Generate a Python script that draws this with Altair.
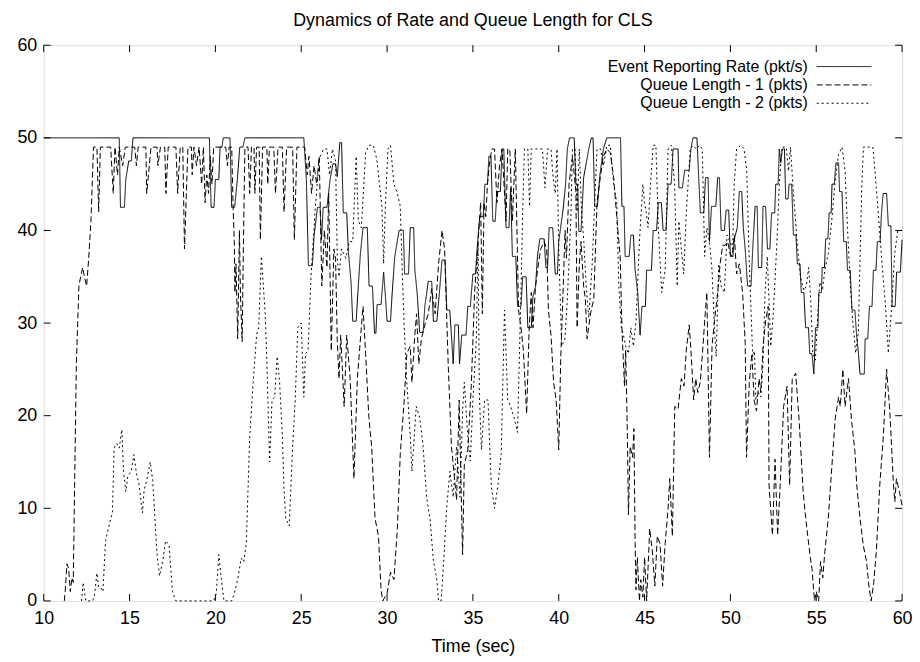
import altair as alt
import pandas as pd

TITLE = "Dynamics of Rate and Queue Length for CLS"
X_TITLE = "Time (sec)"
SERIES = ["Event Reporting Rate (pkt/s)", "Queue Length - 1 (pkts)", "Queue Length - 2 (pkts)"]
X_TICKS = [10, 15, 20, 25, 30, 35, 40, 45, 50, 55, 60]
Y_TICKS = [0, 10, 20, 30, 40, 50, 60]

rate_t = [10.0, 14.4, 14.47, 14.7, 14.78, 14.95, 15.1, 15.2,
          19.65, 19.75, 19.92, 20.0, 20.2, 20.27, 20.38, 20.46,
          20.85, 20.95, 21.12, 21.28, 21.42, 21.6, 21.72,
          25.15, 25.3, 25.42, 25.65, 25.75, 25.95, 26.1, 26.18, 26.28, 26.5, 26.68, 26.85, 27.0, 27.1, 27.25,
          27.35, 27.45, 27.65, 27.75, 27.9, 28.0, 28.2, 28.3, 28.45, 28.6, 28.85, 28.95, 29.15, 29.27, 29.35,
          29.42, 29.65, 29.8, 29.9, 30.0, 30.2, 30.3, 30.45, 30.7, 30.95, 31.02, 31.25, 31.35, 31.55, 31.62,
          31.75, 31.9, 32.1, 32.2, 32.4, 32.6, 32.7, 32.9, 33.05, 33.2, 33.38, 33.48, 33.65, 33.75, 33.85,
          33.95, 34.15, 34.22, 34.35, 34.6, 34.7, 34.85, 35.0, 35.15, 35.26, 35.4, 35.6, 35.7, 35.85, 35.93,
          36.05, 36.16, 36.3, 36.4, 36.6, 36.7, 36.8, 36.93, 37.1, 37.2, 37.3, 37.5, 37.6, 37.8, 37.9, 38.1,
          38.2, 38.4, 38.5, 38.65, 38.76, 38.9, 39.15, 39.25, 39.35, 39.44, 39.65, 39.8, 39.92, 40.0, 40.25,
          40.4, 40.5, 40.63, 40.9, 41.0, 41.1, 41.17, 41.3, 41.45, 41.75, 41.9, 42.0, 42.1, 42.25, 42.4, 42.6,
          42.8, 43.6, 43.68, 43.8, 43.87, 44.1, 44.2, 44.35, 44.45, 44.6, 44.74, 44.85, 45.05, 45.12, 45.4,
          45.5, 45.7, 45.8, 45.98, 46.08, 46.25, 46.37, 46.55, 46.66, 46.95, 47.0, 47.2, 47.34, 47.6, 47.7,
          47.82, 48.05, 48.17, 48.25, 48.45, 48.55, 48.7, 48.78, 48.9, 49.15, 49.26, 49.36, 49.46, 49.65,
          49.75, 49.9, 50.0, 50.15, 50.23, 50.4, 50.52, 50.66, 50.75, 50.86, 51.0, 51.2, 51.3, 51.44, 51.56,
          51.63, 51.82, 51.9, 52.05, 52.16, 52.3, 52.4, 52.58, 52.64, 52.78, 52.85, 52.93, 53.03, 53.15,
          53.22, 53.36, 53.42, 53.57, 53.67, 53.82, 53.9, 54.05, 54.13, 54.28, 54.38, 54.55, 54.62, 54.75,
          54.86, 54.96, 55.1, 55.15, 55.3, 55.35, 55.48, 55.55, 55.68, 55.75, 55.87, 55.92, 56.05, 56.15,
          56.3, 56.36, 56.5, 56.6, 56.75, 56.82, 56.98, 57.08, 57.25, 57.35, 57.46, 57.55, 57.8, 57.85, 58.0,
          58.1, 58.25, 58.33, 58.48, 58.56, 58.72, 58.8, 58.9, 59.1, 59.2, 59.35, 59.42, 59.6, 59.68, 59.9, 60.0]
rate_v = [50, 50, 42.5, 42.5, 45.5, 47.5, 47.5, 50,
          50, 42.5, 42.5, 45.5, 45.5, 49, 49, 50,
          50, 42.5, 42.5, 45.5, 49, 49, 50,
          50, 45.5, 36.2, 36.2, 39.5, 42.5, 42.5, 39, 42.5, 42.5, 45.5, 47.2, 47.2, 45.8, 49.5,
          49.5, 41.9, 41.9, 37.6, 34.5, 30.2, 30.2, 33.3, 37.6, 40.3, 40.3, 34, 34, 28.9, 28.9,
          32, 32, 35.5, 33, 30.2, 30.2, 33.3, 37.2, 40, 40, 35.3, 35.3, 40.3, 40.3, 35.7,
          33.3, 29, 29, 31.8, 34.5, 34.5, 30.2, 30.2, 33.3, 36.8, 36.8, 31.4, 31.4, 28.7, 25.6,
          29.8, 29.8, 25.6, 28.7, 28.7, 31.8, 31.8, 35.3, 35.3, 38.4, 41.5, 41.5, 45, 45, 48,
          48, 41, 41, 44.2, 44.2, 48.8, 48.8, 40.3, 40.3, 44.6, 37.2, 37.2, 31.8, 31.8, 35, 35,
          29.5, 29.5, 32.9, 34, 37.2, 39.1, 39.1, 36, 36, 40.3, 40.3, 35.3, 35.3, 38.8, 42.2,
          45, 48.8, 50, 50, 45, 45, 39.9, 39.9, 45.7, 48.8, 50, 50, 42.6, 42.6, 46, 48.8,
          50, 50, 42.6, 42.6, 37.2, 37.2, 39.5, 39.5, 35.7, 33.3, 28.7, 31.8, 31.8, 35.7, 35.7,
          40, 40, 43, 43, 40, 40, 45, 45, 48.8, 48.8, 44.6, 44.6, 46.5, 46.5, 48.8,
          50, 50, 45, 41.9, 41.9, 45.7, 45.7, 38.8, 42.6, 42.6, 45.7, 45.7, 40, 40,
          42.2, 42.2, 37.2, 37.2, 39.1, 40.3, 44.2, 44.2, 40.3, 38, 34, 34, 38, 42.6, 42.6,
          36, 36, 42.6, 42.6, 38, 38, 41.9, 41.9, 45, 45, 48.8, 47.3, 48.8, 48.8,
          43.4, 43.4, 45, 45, 39.5, 39.5, 36.4, 36.4, 33.3, 33.3, 29.5, 29.5, 26.7, 26.7,
          24.5, 29.5, 29.5, 33.3, 33.3, 36, 36, 39.1, 39.1, 41.9, 41.9, 45, 45, 47.3,
          47.3, 44.2, 44.2, 38.8, 38.8, 35.7, 35.7, 31.4, 31.4, 28.7, 26.7, 24.5, 24.5, 28.3, 28.3,
          31.8, 31.8, 35.7, 35.7, 38.8, 38.8, 41.9, 44, 44, 40.5, 40.5, 31.8, 31.8, 35.5, 35.5, 39]

q1_t = [11.2, 11.25, 11.35, 11.45, 11.55, 11.65, 11.72, 11.9, 12.05, 12.15, 12.27, 12.37, 12.5, 12.62, 12.75,
        12.9, 13.1, 13.2, 13.3, 13.9, 14.05, 14.15, 14.3, 14.4, 14.6, 14.75, 15.3, 15.4, 15.5, 15.95, 16.0,
        16.15, 16.25, 16.6, 16.65, 16.8, 17.05, 17.12, 17.25, 17.7, 17.8, 17.95, 18.1, 18.2, 18.4, 18.6,
        18.65, 18.75, 18.9, 19.05, 19.2, 19.3, 19.4, 19.5, 19.6, 19.7, 19.8, 19.9, 20.6, 20.7, 20.8, 20.95,
        21.04, 21.1, 21.14, 21.2, 21.3, 21.4, 21.46, 21.56, 21.62, 21.72, 21.9, 22.0, 22.1, 22.25, 22.3,
        22.4, 22.55, 22.62, 22.75, 23.0, 23.05, 23.15, 23.4, 23.5, 23.65, 23.9, 24.0, 24.15, 24.5, 24.6,
        24.75, 25.0, 25.2, 25.35, 25.45, 25.6, 25.75, 25.9, 26.05, 26.2, 26.35, 26.5, 26.6, 26.75, 26.9,
        27.0, 27.1, 27.2, 27.3, 27.5, 27.65, 27.85, 28.07, 28.27, 28.5, 28.6, 28.75, 28.94, 29.1, 29.3,
        29.5, 29.65, 29.75, 29.9, 30.0, 30.2, 30.4, 30.6, 30.77, 31.0, 31.15, 31.35, 31.45, 31.6, 31.72,
        31.85, 32.0, 32.2, 32.4, 32.6, 32.8, 33.0, 33.2, 33.35, 33.56, 33.75, 34.05, 34.2, 34.4, 34.5,
        34.7, 34.9, 35.1, 35.3, 35.45, 35.55, 35.65, 35.75, 35.85, 35.95, 36.1, 36.26, 36.4, 36.55, 36.7,
        36.93, 37.03, 37.15, 37.3, 37.47, 37.66, 37.8, 37.94, 38.13, 38.28, 38.4, 38.5, 38.65, 38.82,
        38.95, 39.15, 39.3, 39.4, 39.55, 39.7, 39.85, 40.0, 40.12, 40.25, 40.37, 40.45, 40.6, 40.8, 41.0,
        41.07, 41.2, 41.3, 41.45, 41.55, 41.65, 41.85, 42.04, 42.23, 42.42, 42.6, 42.8, 43.0, 43.2, 43.4,
        43.58, 43.68, 43.83, 43.9, 44.0, 44.06, 44.16, 44.3, 44.38, 44.45, 44.5, 44.58, 44.7, 44.78, 44.9,
        45.0, 45.12, 45.3, 45.45, 45.6, 45.74, 45.9, 46.05, 46.2, 46.37, 46.47, 46.62, 46.76, 46.95, 47.14,
        47.3, 47.43, 47.6, 47.7, 47.86, 47.98, 48.1, 48.24, 48.36, 48.5, 48.63, 48.78, 48.93, 49.07, 49.26,
        49.4, 49.55, 49.7, 49.84, 49.98, 50.1, 50.23, 50.36, 50.52, 50.71, 50.86, 50.94, 51.1, 51.25, 51.38,
        51.52, 51.67, 51.77, 51.9, 52.05, 52.2, 52.25, 52.45, 52.6, 52.75, 52.9, 53.1, 53.3, 53.45, 53.6,
        53.8, 54.0, 54.12, 54.24, 54.35, 54.5, 54.66, 54.75, 54.9, 55.0, 55.14, 55.25, 55.38, 55.5, 55.7,
        55.9, 56.1, 56.3, 56.4, 56.55, 56.68, 56.88, 57.05, 57.26, 57.36, 57.55, 57.74, 57.93, 58.08, 58.2,
        58.35, 58.5, 58.7, 58.9, 59.1, 59.28, 59.5, 59.58, 59.67, 59.85, 60.0]
q1_v = [0, 1, 4, 3.5, 1, 2.5, 2, 25.6, 34, 35, 36, 35, 34, 37, 41,
        49, 49, 42, 49, 49, 44, 49, 46, 49, 47, 49, 49, 47, 49, 49, 44,
        47, 49, 49, 47, 49, 49, 44, 49, 49, 44, 49, 49, 38, 49, 49,
        46, 49, 47, 49, 45, 49, 43, 46, 44, 48, 45, 49, 49, 47, 49, 49,
        42, 38.8, 33.3, 36.4, 28.3, 40, 33, 28, 37, 49, 49, 44, 49, 49, 44,
        49, 49, 39, 49, 49, 45, 49, 49, 44, 49, 49, 42, 49, 49, 39,
        49, 49, 49, 46, 48, 44, 47, 45, 48, 34, 40, 36, 44, 27, 38,
        37, 28, 24, 28.7, 21, 28.7, 24, 13.2, 24, 29.5, 31.8, 26.7, 19.8, 16.7, 8.9,
        7, 1.2, 0, 0.5, 0.8, 3.1, 2.3, 7.8, 15.9, 21.7, 26.7, 27.5, 23.6, 28.3, 31,
        25.6, 28.3, 29.8, 31, 33.7, 31, 36.4, 40, 38, 25.6, 16.7, 10.9, 21.7, 5, 14.7,
        16.3, 23, 33.3, 38.8, 43, 31, 43, 41.5, 45, 47, 48.8, 48.8, 43, 47, 48.8,
        41, 48.8, 48.8, 41, 48.8, 31.4, 29.5, 27.1, 20.2, 29.5, 33.3, 29.5, 34, 36.4,
        38, 38.8, 38, 31.4, 28.7, 23.6, 21.7, 16.3, 26.4, 33.3, 40, 37, 45, 48, 44.2,
        29.5, 36.4, 38.8, 34, 32.6, 28.3, 31, 32.6, 43, 45.7, 48, 48.8, 48.4, 45.7, 41,
        37.2, 29.5, 23.2, 27.1, 17.8, 9.3, 16.7, 15.5, 18.6, 6.2, 1.2, 4.7, 0, 2.3, 0.4,
        4.7, 0, 7.8, 5.4, 1.6, 7, 6.2, 1.6, 6.2, 10, 13.2, 7, 21, 20.7, 24,
        23.2, 27.1, 29.8, 27.1, 21.7, 24, 22.5, 23.6, 26.4, 30.2, 33.3, 15.5, 27.5, 30.2, 33.3,
        36.4, 38.4, 38.4, 38.8, 37.5, 37.2, 39.5, 35.3, 36.4, 33.3, 27.9, 15.5, 23.6, 26.7, 21.7,
        20.5, 24, 22.5, 27.5, 30.2, 31.8, 12.5, 7.1, 15.3, 7.1, 12.5, 21, 23.2, 12.5, 23.9,
        24.6, 19.6, 15.7, 11.75, 9.6, 7.1, 4.6, 3.5, 0, 1, 0, 4.25, 2.5, 5.3, 8.9,
        14.25, 19.6, 22, 21, 25, 21, 24, 19.6, 16, 12.5, 8.9, 6, 4.25, 1.4, 0,
        2, 5.3, 12.5, 17.5, 25, 20.7, 12.5, 10.7, 13.2, 11.75, 10.3]

q2_t = [12.2, 12.3, 12.45, 12.85, 12.95, 13.1, 13.2, 13.3, 13.45, 13.6, 13.85, 14.0, 14.1, 14.25, 14.4,
        14.55, 14.65, 14.78, 14.9, 15.1, 15.25, 15.4, 15.55, 15.75, 15.85, 16.0, 16.2, 16.35, 16.6, 16.75,
        16.95, 17.1, 17.3, 17.5, 17.7, 19.9, 20.05, 20.2, 20.35, 20.5, 20.95, 21.1, 21.3, 21.5, 21.65, 21.8,
        22.0, 22.2, 22.4, 22.52, 22.68, 22.9, 23.0, 23.16, 23.3, 23.45, 23.6, 23.74, 23.9, 24.0, 24.1, 24.3,
        24.5, 24.65, 24.8, 25.0, 25.15, 25.25, 25.4, 25.57, 25.8, 26.05, 26.3, 26.5, 26.65, 26.82, 27.0,
        27.1, 27.2, 27.35, 27.6, 27.8, 28.0, 28.2, 28.33, 28.5, 28.65, 28.75, 28.95, 29.2, 29.4, 29.7, 29.8,
        29.9, 30.05, 30.2, 30.4, 30.6, 30.77, 30.87, 31.0, 31.15, 31.35, 31.45, 31.7, 31.9, 32.1, 32.3,
        32.5, 32.7, 32.9, 33.0, 33.15, 33.3, 33.47, 33.66, 33.85, 34.05, 34.25, 34.4, 34.5, 34.7, 34.85,
        35.0, 35.2, 35.3, 35.38, 35.5, 35.68, 35.88, 36.07, 36.26, 36.45, 36.65, 36.84, 37.03, 37.2, 37.4,
        37.6, 37.8, 37.9, 38.0, 38.2, 38.3, 38.4, 38.76, 39.05, 39.2, 39.35, 39.55, 39.67, 39.8, 39.9, 40.0,
        40.17, 40.36, 40.5, 40.7, 40.8, 40.95, 41.07, 41.2, 41.33, 41.46, 41.6, 41.75, 41.95, 42.1, 42.23,
        42.43, 42.62, 42.8, 43.0, 43.2, 43.38, 43.5, 43.65, 43.77, 43.9, 44.06, 44.2, 44.35, 44.5, 44.7,
        44.9, 45.0, 45.1, 45.2, 45.35, 45.5, 45.66, 45.8, 46.0, 46.2, 46.37, 46.56, 46.75, 46.9, 47.0, 47.14,
        47.28, 47.43, 47.66, 47.82, 48.0, 48.2, 48.36, 48.5, 48.63, 48.78, 48.93, 49.07, 49.17, 49.32, 49.46,
        49.65, 49.8, 49.98, 50.13, 50.22, 50.36, 50.6, 50.8, 50.95, 51.1, 51.3, 51.4, 51.48, 51.63, 51.77,
        51.9, 52.02, 52.15, 52.35, 52.5, 52.7, 52.85, 53.0, 53.25, 53.38, 53.5, 53.65, 53.9, 54.08, 54.28,
        54.42, 54.56, 54.68, 54.8, 54.95, 55.08, 55.2, 55.36, 55.5, 55.7, 55.9, 56.1, 56.3, 56.5, 56.68,
        56.82, 56.97, 57.12, 57.3, 57.45, 57.55, 57.65, 57.75, 58.3, 58.5, 58.65, 58.85, 59.05, 59.2, 59.4,
        59.57, 59.75, 60.0]
q2_v = [0, 2, 0, 0, 0.5, 3, 1.5, 1.5, 1, 6.5, 8.5, 9.5, 16.5, 17, 16.5,
        18.5, 14, 11.8, 13.5, 14, 15.8, 13.8, 12.6, 9.5, 12, 13, 15, 13, 5, 2.7,
        4.5, 6.5, 6, 1, 0, 0, 0.8, 5, 2.3, 0, 0, 0.8, 2.3, 4.6, 4.2, 6.2,
        17.8, 23.6, 28.7, 29.5, 37.2, 31, 25.6, 15, 21.7, 22, 26.4, 23.6, 17.8, 12, 8.9, 8.1,
        16.7, 21.7, 29.5, 30, 22, 26.7, 27, 35, 42, 47.7, 48.8, 48.8, 46, 48.8, 47.5,
        37, 35, 38, 37, 38.8, 38.8, 48, 41, 40.3, 45, 48.4, 49.2, 49.2, 47.7, 42.6, 36.4,
        42.6, 48.8, 49.2, 45, 44, 42.6, 36.4, 29.5, 23.6, 17.8, 14, 21, 19.8, 16.7, 11.2,
        8.9, 4.3, 2.3, 0, 0, 4.3, 10, 14, 11.2, 16.7, 11.2, 20.5, 23.6, 17.8, 15.1,
        21.7, 28.3, 38.8, 22, 16.3, 21.7, 21.7, 12.4, 10, 12.4, 15.9, 31.4, 21.7, 21, 19.8,
        18.2, 33.3, 42, 48.8, 48.8, 42.6, 48.8, 48.8, 48.8, 44.6, 48.8, 48.8, 45.7, 44, 48.8, 38,
        27.5, 28.3, 32.6, 41, 48.8, 48.8, 42, 48.8, 42, 38.8, 34, 30.6, 36.4, 43.4, 48.8,
        48.8, 47, 49.2, 49.2, 45, 43, 34, 29.5, 28.7, 27.5, 26.7, 29.5, 27.5, 30.2, 38.8,
        45, 43, 41.9, 40.3, 45, 49.2, 49.2, 40.3, 33.3, 35.7, 48.8, 49.2, 45, 34, 41, 38,
        35.3, 41.9, 48.8, 49.2, 48.8, 49.2, 48.8, 37.2, 40.3, 38.8, 35.7, 29.5, 26.4, 36.4, 34,
        33.3, 39.5, 38.8, 38, 45, 48.8, 49.2, 48.8, 46.5, 36.4, 26.4, 27, 21.7, 22.5, 22,
        25.6, 33.3, 37.2, 27.5, 31, 38.4, 45, 49, 49, 46.4, 49, 44.6, 38.4, 35, 33.5,
        34, 36, 32.5, 26.75, 26, 30.5, 34.4, 33.5, 35.75, 37.5, 41, 45.3, 48.2, 49, 46.4,
        40.3, 34.6, 30.3, 26.75, 29, 36.75, 44.6, 49, 49, 44.6, 41, 36, 31.5, 26.75, 32,
        37.5, 40, 40]

FONT = "Liberation Sans"
FS = 18
KEY_FS = 16
W, H = 865, 560

x_scale = alt.Scale(domain=[10, 60], nice=False, zero=False)
y_scale = alt.Scale(domain=[0, 60], nice=False, zero=False)
x_axis = alt.Axis(values=X_TICKS, ticks=False, tickSize=0, domain=False, grid=False,
                  labelFont=FONT, labelFontSize=FS, labelColor="black", labelPadding=9,
                  labelFlush=False, title=X_TITLE, titleFont=FONT, titleFontSize=FS,
                  titleFontWeight="normal", titleColor="black", titlePadding=10)
y_axis = alt.Axis(values=Y_TICKS, ticks=False, tickSize=0, domain=False, grid=False,
                  labelFont=FONT, labelFontSize=FS, labelColor="black", labelPadding=7,
                  labelFlush=False, title=None)

def series_layer(ts, vs, dash):
    df = pd.DataFrame({"Time": ts, "Value": vs})
    return alt.Chart(df).mark_line(color="black", strokeWidth=1, strokeDash=dash).encode(
        x=alt.X("Time:Q", scale=x_scale, axis=x_axis),
        y=alt.Y("Value:Q", scale=y_scale, axis=y_axis),
    )

rate_layer = series_layer(rate_t, rate_v, [1, 0])
q1_layer = series_layer(q1_t, q1_v, [6, 3])
q2_layer = series_layer(q2_t, q2_v, [2, 3])

xt = pd.DataFrame({"Time": X_TICKS})
yt = pd.DataFrame({"Value": Y_TICKS})
tick_len = 7
xt_bottom = alt.Chart(xt).mark_rule(color="black", strokeWidth=1).encode(
    x=alt.X("Time:Q", scale=x_scale, axis=x_axis), y=alt.value(H), y2=alt.value(H - tick_len))
xt_top = alt.Chart(xt).mark_rule(color="black", strokeWidth=1).encode(
    x=alt.X("Time:Q", scale=x_scale, axis=x_axis), y=alt.value(0), y2=alt.value(tick_len))
yt_left = alt.Chart(yt).mark_rule(color="black", strokeWidth=1).encode(
    y=alt.Y("Value:Q", scale=y_scale, axis=y_axis), x=alt.value(0), x2=alt.value(tick_len))
yt_right = alt.Chart(yt).mark_rule(color="black", strokeWidth=1).encode(
    y=alt.Y("Value:Q", scale=y_scale, axis=y_axis), x=alt.value(W), x2=alt.value(W - tick_len))

# key (gnuplot style: text on the left, line sample on the right)
key_layers = []
dashes = [[1, 0], [6, 3], [2, 3]]
for i, (name, dash) in enumerate(zip(SERIES, dashes)):
    yy = 21.5 + 18.5 * i
    key_layers.append(
        alt.Chart(pd.DataFrame({"label": [name]})).mark_text(
            align="right", baseline="middle", font=FONT, fontSize=KEY_FS, color="black"
        ).encode(text="label:N", x=alt.value(770), y=alt.value(yy))
    )
    key_layers.append(
        alt.Chart(pd.DataFrame({"label": [name]})).mark_rule(
            color="black", strokeWidth=1, strokeDash=dash
        ).encode(x=alt.value(779), x2=alt.value(834), y=alt.value(yy))
    )

chart = alt.layer(
    rate_layer, q1_layer, q2_layer, xt_bottom, xt_top, yt_left, yt_right, *key_layers
).properties(
    width=W, height=H,
    title=alt.TitleParams(TITLE, font=FONT, fontSize=FS, fontWeight="normal", color="black",
                          anchor="middle", offset=6),
    autosize=alt.AutoSizeParams(type="none"),
    padding={"left": 36, "top": 35, "right": 10, "bottom": 55},
).configure_view(stroke="black", strokeWidth=1).configure(background="white")

chart.save("out.html", embed_options={"renderer": "svg", "actions": False})
